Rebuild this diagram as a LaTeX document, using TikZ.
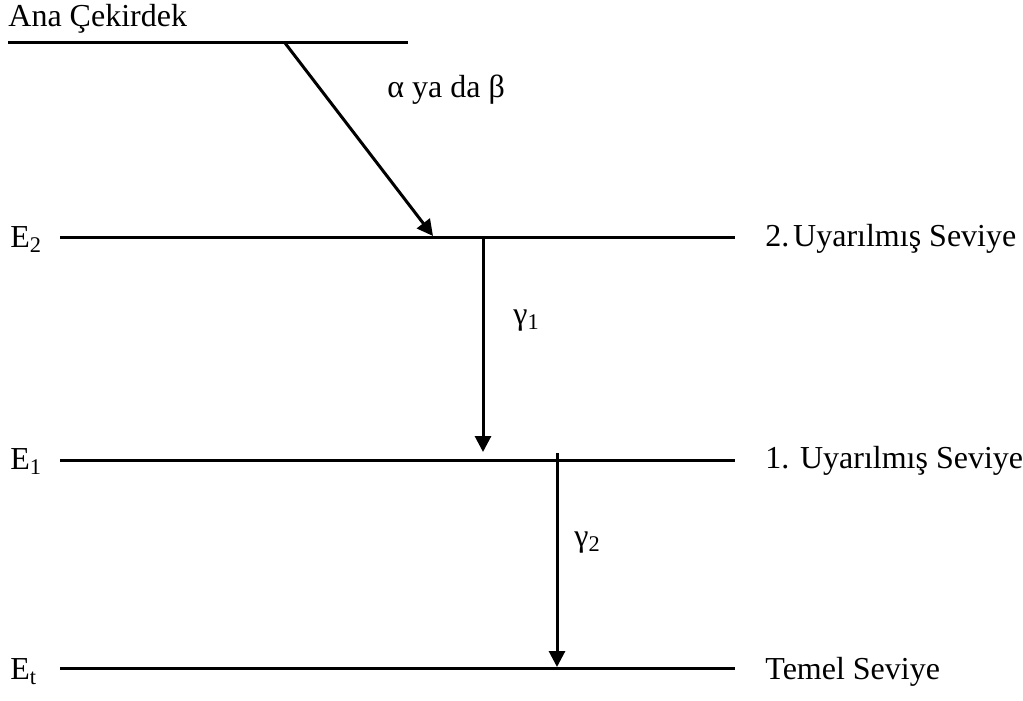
\documentclass[tikz,border=0pt]{standalone}
\usepackage{fontspec}
\setmainfont{Liberation Serif}
\usetikzlibrary{arrows.meta}

\begin{document}
\begin{tikzpicture}[x=0.5pt,y=-0.5pt,
    level/.style={line width=1.5pt},
    decay/.style={line width=1.5pt,-{Triangle[length=8pt,width=8pt]}},
    lbl/.style={inner sep=0pt,anchor=base west,font=\fontsize{16}{19}\selectfont}]
    \useasboundingbox (0,0) rectangle (1023,701);

    % energy levels
    \coordinate (anaL) at (8,43);   \coordinate (anaR) at (408,43);
    \coordinate (e2L) at (60,237);  \coordinate (e2R) at (735,237);
    \coordinate (e1L) at (60,460);  \coordinate (e1R) at (735,460);
    \coordinate (etL) at (60,668);  \coordinate (etR) at (735,668);
    \draw [level] (anaL) -- (anaR);
    \draw [level] (e2L) -- (e2R);
    \draw [level] (e1L) -- (e1R);
    \draw [level] (etL) -- (etR);

    % level labels
    \node [lbl] (ana) at (8,27) {Ana Çekirdek};
    \node [lbl] (e2) at (10,247) {E\textsubscript{2}};
    \node [lbl] (e1) at (10,469) {E\textsubscript{1}};
    \node [lbl] (et) at (10,679) {E\textsubscript{t}};
    \node [lbl] (s2) at (765,246) {2.\hspace{0.12em}Uyarılmış Seviye};
    \node [lbl] (s1) at (765,468) {1. Uyarılmış Seviye};
    \node [lbl] (s0) at (765,679) {Temel Seviye};

    % transitions
    \coordinate (ab0) at (285,43);  \coordinate (ab1) at (433,236);
    \coordinate (g10) at (483,237); \coordinate (g11) at (483,452);
    \coordinate (g20) at (557,453); \coordinate (g21) at (557,667);
    \draw [decay] (ab0) -- (ab1);
    \draw [decay] (g10) -- (g11);
    \draw [decay] (g20) -- (g21);
    \node [lbl] (ab) at (387,98) {α ya da β};
    \node [lbl] (g1) at (513,324) {γ\textsubscript{1}};
    \node [lbl] (g2) at (574,546) {γ\textsubscript{2}};
\end{tikzpicture}
\end{document}
